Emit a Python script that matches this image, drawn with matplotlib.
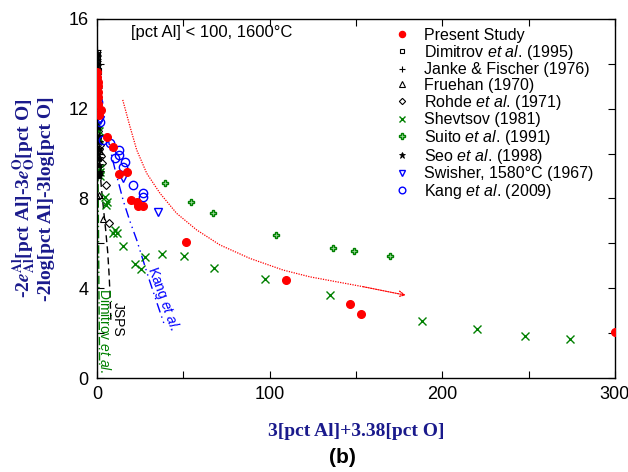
import matplotlib
matplotlib.use("Agg")
import matplotlib.pyplot as plt

plt.rcParams["font.family"] = ["Liberation Sans", "DejaVu Sans"]
plt.rcParams["mathtext.fontset"] = "custom"
plt.rcParams["mathtext.rm"] = "Liberation Sans"
plt.rcParams["mathtext.it"] = "Liberation Sans:italic"
plt.rcParams["mathtext.bf"] = "Liberation Sans:bold"

NAVY = "#1a1a8c"
RED = "#ff0000"
GREEN = "#008000"
BLUE = "#0000ff"

# ---- data ----
present_x = [0.2, 0.2, 0.3, 0.3, 0.4, 0.5, 0.7, 1.2, 2.1, 6.0, 9.1, 12.9, 17.2, 19.5, 23.0, 23.9, 26.4, 51.5, 109.4, 146.7, 152.7, 300.0]
present_y = [13.65, 13.4, 13.2, 13.0, 12.75, 12.5, 12.2, 11.7, 11.95, 10.75, 10.28, 9.08, 9.19, 7.93, 7.83, 7.66, 7.66, 6.08, 4.37, 3.30, 2.84, 2.05]

dimitrov_x = [0.1, 0.15, 0.2, 0.25, 0.3, 0.2]
dimitrov_y = [14.5, 14.3, 14.1, 13.9, 13.7, 12.6]

janke_x = [0.05, 0.1, 0.1, 0.15, 0.2, 0.2, 0.3, 0.4]
janke_y = [14.6, 14.4, 14.2, 14.0, 13.8, 13.3, 12.9, 12.5]

fruehan_x = [0.5, 0.8, 1.7, 1.2, 0.2, 3.6]
fruehan_y = [10.6, 9.94, 10.1, 8.16, 8.1, 7.1]

rohde_x = [0.6, 0.9, 1.5, 2.2, 3.0, 5.4, 6.8]
rohde_y = [11.0, 10.2, 10.4, 9.9, 9.6, 8.62, 6.9]

shevtsov_x = [0.6, 0.9, 1.2, 1.7, 1.7, 2.0, 4.6, 5.6, 5.0, 9.3, 10.4, 11.4, 14.9, 22.0, 25.3, 27.8, 37.5,
              50.4, 67.7, 97.3, 134.9, 188.0, 220.2, 248.2, 274.3]
shevtsov_y = [11.3, 11.0, 10.7, 9.36, 9.2, 9.0, 8.08, 7.86, 7.71, 6.45, 6.6, 6.45, 5.88, 5.08, 4.86, 5.41, 5.51,
              5.45, 4.92, 4.40, 3.68, 2.55, 2.17, 1.89, 1.72]

suito_x = [39.4, 54.2, 67.4, 103.6, 136.9, 148.8, 170.0]
suito_y = [8.67, 7.86, 7.37, 6.37, 5.78, 5.67, 5.45]

seo_x = [0.0, 0.05, 0.1, 0.0, 0.1, 0.3, 0.5, 0.4, 0.7, 0.9, 1.0, 1.2, 1.0, 1.3, 1.5, 1.1]
seo_y = [14.5, 14.3, 14.1, 13.9, 13.7, 12.4, 12.1, 11.7, 11.2, 10.8, 10.5, 10.2, 9.8, 9.5, 9.2, 9.0]

swisher_x = [0.8, 1.5, 14.9, 35.5]
swisher_y = [12.1, 11.5, 8.9, 7.41]

kang_x = [0.3, 0.5, 0.8, 1.2, 1.7, 3.6, 7.5, 10.4, 12.9, 12.9, 15.2, 16.2, 21.0, 26.8, 26.8]
kang_y = [12.3, 11.9, 11.6, 11.95, 11.4, 10.6, 10.46, 9.79, 10.16, 9.93, 9.39, 9.64, 8.6, 8.23, 8.05]

# model / guide lines
kang_line_x = [6.0, 8.2, 10.4, 15.2, 19.0, 23.0, 29.7, 34.5, 39.4]
kang_line_y = [10.8, 10.0, 9.3, 7.9, 7.0, 6.15, 4.51, 3.4, 2.29]

jsps_line_x = [0.5, 1.5, 2.5, 3.8, 5.0, 6.2, 7.0, 7.6, 8.0]
jsps_line_y = [10.8, 9.5, 8.5, 7.5, 6.6, 5.6, 4.6, 3.6, 2.6]

dimitrov_line_x = [0.5, 0.8, 1.1, 1.5]
dimitrov_line_y = [10.0, 7.0, 4.0, 0.5]

trend_x = [14.9, 19.1, 23.0, 28.8, 36.5, 46.1, 57.7, 71.2, 88.6, 107.9, 123.3, 154.2, 178.9]
trend_y = [12.39, 11.2, 10.16, 9.12, 8.23, 7.34, 6.60, 5.93, 5.33, 4.81, 4.51, 4.07, 3.69]

fig = plt.figure(figsize=(6.28, 4.72), dpi=100)
ax = fig.add_axes([0.1545, 0.199, 0.8245, 0.761])

ax.plot(dimitrov_line_x, dimitrov_line_y, color=GREEN, linestyle=(0, (6, 2, 1, 2)), linewidth=1)
ax.plot(jsps_line_x, jsps_line_y, color="black", linestyle=(0, (5, 3)), linewidth=1)
ax.plot(kang_line_x, kang_line_y, color=BLUE, linestyle=(0, (7, 3, 1, 3, 1, 3)), linewidth=1)
ax.plot(trend_x[:-1], trend_y[:-1], color=RED, linestyle=(0, (1, 1)), linewidth=0.9)
ax.annotate("", xy=(trend_x[-1], trend_y[-1]), xytext=(trend_x[-2], trend_y[-2]),
            arrowprops=dict(arrowstyle="->", color=RED, lw=0.9, linestyle=(0, (1, 1)),
                            shrinkA=0, shrinkB=0))

ax.plot(present_x, present_y, "o", color=RED, mec=RED, ms=5.5, label="Present Study", zorder=5)
ax.plot(dimitrov_x, dimitrov_y, "s", mfc="none", mec="black", ms=4, mew=0.8,
        label=r"Dimitrov $et\ al$. (1995)")
ax.plot(janke_x, janke_y, "+", color="black", ms=6, mew=0.8, label="Janke & Fischer (1976)")
ax.plot(fruehan_x, fruehan_y, "^", mfc="none", mec="black", ms=5, mew=0.8, label="Fruehan (1970)")
ax.plot(rohde_x, rohde_y, "D", mfc="none", mec="black", ms=4, mew=0.8,
        label=r"Rohde $et\ al$. (1971)")
ax.plot(shevtsov_x, shevtsov_y, "x", color=GREEN, ms=6, mew=1, label="Shevtsov (1981)")
ax.plot(suito_x, suito_y, "P", mfc="#9fd89f", mec=GREEN, ms=5, mew=1,
        label=r"Suito $et\ al$. (1991)")
ax.plot(seo_x, seo_y, "*", color="black", ms=6, mew=0.6, label=r"Seo $et\ al$. (1998)")
ax.plot(swisher_x, swisher_y, "v", mfc="none", mec=BLUE, ms=6, mew=1,
        label="Swisher, 1580°C (1967)")
ax.plot(kang_x, kang_y, "o", mfc="none", mec=BLUE, ms=6, mew=1, label=r"Kang $et\ al$. (2009)")

ax.text(19.5, 15.4, "[pct Al] < 100, 1600°C", fontsize=12, va="center", ha="left")
ax.text(37.9, 3.54, r"Kang $et\ al$.", color=BLUE, fontsize=10, rotation=-70,
        ha="center", va="center")
ax.text(11.9, 2.6, "JSPS", color="black", fontsize=10, rotation=-90, ha="center", va="center")
ax.text(4.4, 2.1, r"Dimitrov $et\ al$.", color=GREEN, fontsize=10, rotation=-90,
        ha="center", va="center")

ax.set_xlim(0, 300)
ax.set_ylim(0, 16)
ax.set_xticks([0, 50, 100, 150, 200, 250, 300])
ax.set_xticklabels(["0", "", "100", "", "200", "", "300"])
ax.set_yticks([0, 2, 4, 6, 8, 10, 12, 14, 16])
ax.set_yticklabels(["0", "", "4", "", "8", "", "12", "", "16"])
ax.tick_params(direction="in", top=True, right=True, length=5, width=0.8, labelsize=13, pad=6)
for sp in ax.spines.values():
    sp.set_linewidth(1.0)

ax.set_xlabel("3[pct Al]+3.38[pct O]", fontsize=14, fontweight="bold",
              family="Liberation Serif", color=NAVY, labelpad=14)
ax.set_ylabel(r"-2$\mathbfit{e}^{\mathbf{Al}}_{\mathbf{Al}}$[pct Al]-3$\mathbfit{e}^{\mathbf{O}}_{\mathbf{O}}$[pct O]"
              "\n-2log[pct Al]-3log[pct O]",
              fontsize=14, fontweight="bold", family="Liberation Serif", color=NAVY,
              labelpad=10, linespacing=1.0, math_fontfamily="stix")

leg = ax.legend(loc="upper left", bbox_to_anchor=(0.556, 1.0), frameon=False, fontsize=11.5,
                handlelength=1.0, handletextpad=0.9, labelspacing=0.02, markerscale=0.8,
                borderaxespad=0.15)

fig.text(0.545, 0.01, "(b)", fontsize=15, fontweight="bold", ha="center", va="bottom")

fig.savefig("out.png", dpi=100)
